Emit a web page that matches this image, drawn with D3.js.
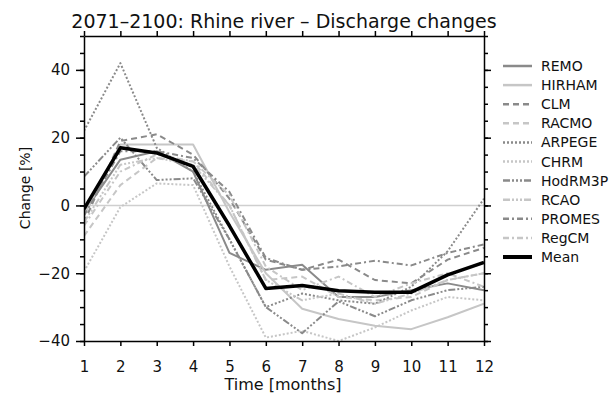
<!DOCTYPE html>
<html>
<head>
<meta charset="utf-8">
<script src="https://cdn.jsdelivr.net/npm/d3@7"></script>
<style>
  body { margin: 0; background: #fff; }
  svg text { font-family: 'DejaVu Sans', sans-serif; fill: #111; }
</style>
</head>
<body>
<div id="app"></div>
<script>
(function (d3) {
  'use strict'

  // data
  const months = [1, 2, 3, 4, 5, 6, 7, 8, 9, 10, 11, 12]
  const models = ['REMO', 'HIRHAM', 'CLM', 'RACMO', 'ARPEGE', 'CHRM', 'HodRM3P', 'RCAO', 'PROMES', 'RegCM', 'Mean']
  const remo    = [-2, 13.5, 16, 10, -14, -19, -17.5, -27, -27, -25, -23, -25]
  const hirham  = [-3, 18, 18, 18, -2, -20, -30.5, -33.5, -35.5, -36.5, -33, -29]
  const clm     = [-5, 19, 21, 15, 2, -16, -19, -16, -22, -23, -16, -12.5]
  const racmo   = [-9, 6, 14, 13, 0, -22, -21, -27, -28, -27, -22, -20]
  const arpege  = [22, 42, 17, 10, -10, -30, -26, -28, -29, -24, -13.5, 2]
  const chrm    = [-19.5, -0.5, 6.5, 6, -18, -39, -37, -40, -36, -31, -27, -28]
  const hodrm3p = [8.5, 20, 7.5, 8, -10, -30, -37.7, -28.3, -32.7, -28, -25, -24]
  const rcao    = [-5, 12, 14, 12, 0, -22, -28, -26, -29, -26, -22, -20]
  const promes  = [-3, 16, 16, 14, 4, -15.5, -19, -18, -16.3, -17.7, -14, -11.5]
  const regcm   = [-6, 10, 15, 13, 3, -18, -25, -21, -27, -23, -20, -24]
  const mean    = [-1, 17, 15.5, 11.5, -6, -24.5, -23.6, -25.2, -25.6, -25.6, -20.5, -16.8]
  const series  = [remo, hirham, clm, racmo, arpege, chrm, hodrm3p, rcao, promes, regcm, mean]
  const yTicks = [-40, -20, 0, 20, 40]

  const dark = '#8a8a8a'
  const light = '#c6c6c6'
  const styles = [
    { c: dark,  w: 2,   dash: null },
    { c: light, w: 2,   dash: null },
    { c: dark,  w: 2,   dash: '6,4' },
    { c: light, w: 2,   dash: '6,4' },
    { c: dark,  w: 2,   dash: '2,2' },
    { c: light, w: 2,   dash: '2,2' },
    { c: dark,  w: 2,   dash: '7,2,2,2,2,2,2,2' },
    { c: light, w: 2,   dash: '7,2,2,2,2,2,2,2' },
    { c: dark,  w: 2,   dash: '6,3,2,3' },
    { c: light, w: 2,   dash: '6,3,2,3' },
    { c: '#000', w: 3.5, dash: null }
  ]

  const W = 615, H = 398
  const margin = { top: 36, right: 131, bottom: 57, left: 84 }
  const w = W - margin.left - margin.right
  const h = H - margin.top - margin.bottom

  const svg = d3.select('#app').append('svg')
    .attr('width', W).attr('height', H)

  const x = d3.scaleLinear().domain([1, 12]).range([margin.left, margin.left + w])
  const y = d3.scaleLinear().domain([-40, 50]).range([margin.top + h, margin.top])

  // zero line
  svg.append('line')
    .attr('x1', x(1)).attr('x2', x(12))
    .attr('y1', y(0)).attr('y2', y(0))
    .attr('stroke', '#cfcfcf').attr('stroke-width', 1.5)

  svg.append('clipPath').attr('id', 'clip')
    .append('rect').attr('x', x(1)).attr('y', y(50)).attr('width', w).attr('height', h)

  const line = d3.line()
    .x(function (d, i) { return x(months[i]) })
    .y(function (d) { return y(d) })

  const g = svg.append('g').attr('clip-path', 'url(#clip)')
  series.forEach(function (s, i) {
    g.append('path')
      .attr('d', line(s))
      .attr('fill', 'none')
      .attr('stroke', styles[i].c)
      .attr('stroke-width', styles[i].w)
      .attr('stroke-dasharray', styles[i].dash)
      .attr('stroke-linejoin', 'round')
  })

  // axes (box with outward ticks)
  const axStyle = function (sel) {
    sel.select('.domain').attr('stroke', '#000').attr('stroke-width', 1.5)
    sel.selectAll('.tick line').attr('stroke', '#000').attr('stroke-width', 1.5)
    sel.selectAll('.tick text').style('font-size', '15px').attr('fill', '#111')
  }

  svg.append('g')
    .attr('transform', 'translate(0,' + y(-40) + ')')
    .call(d3.axisBottom(x).tickValues(months).tickFormat(d3.format('d')).tickSize(5).tickSizeOuter(0).tickPadding(15))
    .call(axStyle)

  svg.append('g')
    .attr('transform', 'translate(0,' + y(50) + ')')
    .call(d3.axisTop(x).tickValues(months).tickFormat('').tickSize(5).tickSizeOuter(0))
    .call(axStyle)

  const minor = d3.range(-40, 51, 5)
  svg.append('g')
    .attr('transform', 'translate(' + x(1) + ',0)')
    .call(d3.axisLeft(y).tickValues(minor).tickFormat('').tickSize(4).tickSizeOuter(0))
    .call(axStyle)
  svg.append('g')
    .attr('transform', 'translate(' + x(1) + ',0)')
    .call(d3.axisLeft(y).tickValues(yTicks).tickFormat(d3.format('d')).tickSize(8).tickPadding(6))
    .call(axStyle)
    .call(function (sel) { sel.select('.domain').remove() })

  svg.append('g')
    .attr('transform', 'translate(' + x(12) + ',0)')
    .call(d3.axisRight(y).tickValues(minor).tickFormat('').tickSize(4).tickSizeOuter(0))
    .call(axStyle)
  svg.append('g')
    .attr('transform', 'translate(' + x(12) + ',0)')
    .call(d3.axisRight(y).tickValues(yTicks).tickFormat('').tickSize(7))
    .call(axStyle)
    .call(function (sel) { sel.select('.domain').remove() })

  // labels
  svg.append('text')
    .attr('x', 284).attr('y', 28)
    .attr('text-anchor', 'middle')
    .style('font-size', '19px')
    .text('2071\u20132100: Rhine river \u2013 Discharge changes')

  svg.append('text')
    .attr('x', 283).attr('y', 390)
    .attr('text-anchor', 'middle')
    .style('font-size', '16px')
    .text('Time [months]')

  svg.append('text')
    .attr('transform', 'translate(30,188) rotate(-90)')
    .attr('text-anchor', 'middle')
    .style('font-size', '14px')
    .text('Change [%]')

  // legend
  const leg = svg.append('g')
  models.forEach(function (m, i) {
    const ly = 66 + i * 19.1
    leg.append('line')
      .attr('x1', 503).attr('x2', 532)
      .attr('y1', ly).attr('y2', ly)
      .attr('stroke', styles[i].c)
      .attr('stroke-width', i === 10 ? 4 : 2.5)
      .attr('stroke-dasharray', styles[i].dash)
    leg.append('text')
      .attr('x', 541).attr('y', ly + 5)
      .style('font-size', '14px')
      .text(m)
  })
})(d3)
</script>
</body>
</html>
